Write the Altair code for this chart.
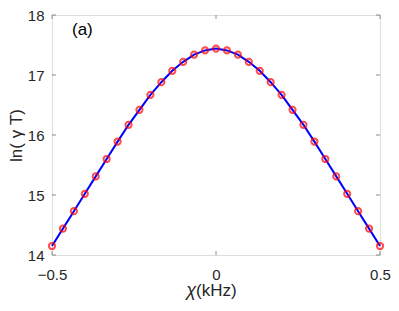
import altair as alt
import pandas as pd

chi = [round(-0.5 + k / 30, 6) for k in range(31)]
half = [14.15, 14.44, 14.73, 15.02, 15.31, 15.60, 15.89, 16.17, 16.42, 16.67,
        16.88, 17.07, 17.22, 17.34, 17.41, 17.44]
ln_gT = half + half[-2::-1]

x_ticks = [-0.5, 0, 0.5]
y_ticks = [14, 15, 16, 17, 18]

df = pd.DataFrame({"chi": chi, "v": ln_gT})
FONT = "Liberation Sans"
GRAY = "#8a8a8a"
TXT = "#262626"
W, H = 328, 240

xs = alt.Scale(domain=[-0.5, 0.5], nice=False)
ys = alt.Scale(domain=[14, 18], nice=False)

base = alt.Chart(df)
line = base.mark_line(color="#0000ff", strokeWidth=2).encode(
    x=alt.X("chi:Q", scale=xs,
            axis=alt.Axis(values=x_ticks, title="", grid=False, domain=False,
                          tickSize=0, labelPadding=12, labelFontSize=15,
                          labelColor=TXT, labelFont=FONT, labelFlush=False,
                          labelExpr="datum.value == 0 ? '0' : format(datum.value, '.1f')")),
    y=alt.Y("v:Q", scale=ys,
            axis=alt.Axis(values=y_ticks, title="ln( γ T)", grid=False, domain=False,
                          tickSize=0, labelPadding=8, labelFontSize=15, format="d",
                          labelColor=TXT, labelFont=FONT, titleFont=FONT,
                          titleFontSize=17, titleFontWeight="normal", titleColor=TXT,
                          titlePadding=2, labelFlush=False)),
)
pts = base.mark_point(shape="circle", filled=False, color="#ff0000", size=38,
                      strokeWidth=2).encode(x=alt.X("chi:Q", scale=xs), y=alt.Y("v:Q", scale=ys))

xt = alt.Chart(pd.DataFrame({"t": x_ticks}))
yt = alt.Chart(pd.DataFrame({"t": y_ticks}))
tick_style = dict(color=GRAY, strokeWidth=1)
tb = xt.mark_rule(**tick_style).encode(x=alt.X("t:Q", scale=xs), y=alt.value(H), y2=alt.value(H - 4))
tt = xt.mark_rule(**tick_style).encode(x=alt.X("t:Q", scale=xs), y=alt.value(0), y2=alt.value(4))
tl = yt.mark_rule(**tick_style).encode(y=alt.Y("t:Q", scale=ys), x=alt.value(0), x2=alt.value(4))
tr = yt.mark_rule(**tick_style).encode(y=alt.Y("t:Q", scale=ys), x=alt.value(W), x2=alt.value(W - 4))

label = alt.Chart(pd.DataFrame({"s": ["(a)"]})).mark_text(
    font=FONT, fontSize=17, color="#000000", align="left", baseline="middle"
).encode(text="s:N", x=alt.value(20), y=alt.value(15))

xt_chi = alt.Chart(pd.DataFrame({"s": ["χ"]})).mark_text(
    font=FONT, fontSize=18, fontStyle="italic", color=TXT, align="right", baseline="alphabetic"
).encode(text="s:N", x=alt.value(144), y=alt.value(H + 41))
xt_unit = alt.Chart(pd.DataFrame({"s": ["(kHz)"]})).mark_text(
    font=FONT, fontSize=17, color=TXT, align="left", baseline="alphabetic"
).encode(text="s:N", x=alt.value(144), y=alt.value(H + 41))

chart = alt.layer(tb, tt, tl, tr, line, pts, label, xt_chi, xt_unit).properties(
    width=W, height=H,
    autosize=alt.AutoSizeParams(type="none"),
    padding={"left": 44, "top": 7, "right": 11, "bottom": 48},
).configure_view(stroke=GRAY, strokeWidth=1).configure(background="white")

chart.save("out.html", embed_options={"renderer": "svg", "actions": False})
